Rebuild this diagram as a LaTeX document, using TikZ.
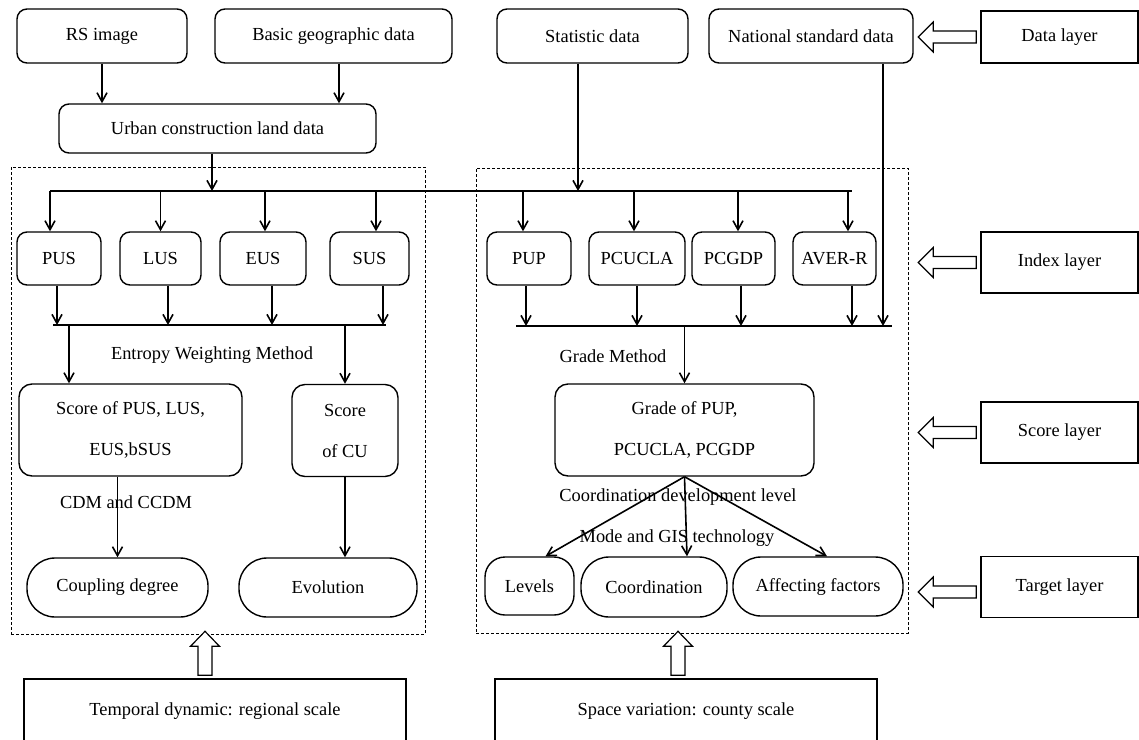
\documentclass[tikz,border=0pt]{standalone}
\usepackage{fontspec}
\setmainfont{Liberation Serif}
\usetikzlibrary{arrows.meta, positioning}

\begin{document}
\begin{tikzpicture}[x=0.5pt, y=-0.5pt,
    every node/.style={font=\fontsize{9.2}{11}\selectfont},
    databox/.style={draw, rounded corners=5pt, line width=0.7pt, minimum height=27pt, inner sep=1pt},
    idxbox/.style={draw, rounded corners=5pt, line width=0.7pt, minimum height=26.5pt, inner sep=1pt},
    scorebox/.style={draw, rounded corners=6.5pt, line width=0.7pt, minimum height=46pt, align=center, inner sep=1pt},
    goal/.style={draw, rounded corners=14pt, line width=0.7pt, minimum height=29.5pt, inner sep=1pt},
    layerbox/.style={draw, line width=0.7pt, minimum width=78.5pt, minimum height=30.5pt, inner sep=1pt},
    frame/.style={draw, line width=0.5pt, dash pattern=on 1.5pt off 1pt, inner sep=0pt},
    wire/.style={draw, line width=0.8pt},
    flow/.style={draw, line width=0.8pt, -{Straight Barb[length=4.5pt, width=5pt]}},
    hollow/.style={draw, line width=0.6pt, fill=white}]

    \useasboundingbox (0,0) rectangle (1139,739);
    \clip (0,0) rectangle (1139,739);

    % dashed frames
    \node[frame, minimum width=207pt, minimum height=233.5pt] (tframe) at (218,400.5) {};
    \node[frame, minimum width=216pt, minimum height=232.5pt] (sframe) at (692,400.5) {};

    % data
    \node[databox, minimum width=85pt] (rs) at (102,36) {RS image};
    \node[databox, minimum width=118.5pt] (basic) at (333.5,36) {Basic geographic data};
    \node[databox, minimum width=95.5pt] (stat) at (592.5,36) {Statistic data};
    \node[databox, minimum width=102pt] (nat) at (811,36) {National standard data};
    \node[databox, minimum width=158.5pt, minimum height=24.5pt] (urban) at (217.5,128.5) {Urban construction land data};

    % indexes
    \node[idxbox, minimum width=42pt] (pus) at (59,258.5) {PUS};
    \node[idxbox, minimum width=40.5pt] (lus) at (160.5,258.5) {LUS};
    \node[idxbox, minimum width=43pt] (eus) at (263,258.5) {EUS};
    \node[idxbox, minimum width=39.5pt] (sus) at (369.5,258.5) {SUS};
    \node[idxbox, minimum width=42pt] (pup) at (529,258.5) {PUP};
    \node[idxbox, minimum width=48pt] (pcucla) at (637,258.5) {PCUCLA};
    \node[idxbox, minimum width=41.5pt] (pcgdp) at (733.5,258.5) {PCGDP};
    \node[idxbox, minimum width=41.5pt] (aver) at (834.5,258.5) {AVER-R};

    % scores
    \node[scorebox, minimum width=111.5pt] (scorepus) at (130.5,430) {Score of PUS, LUS,\\[9.5pt]EUS,bSUS};
    \node[scorebox, minimum width=53pt] (scorecu) at (345,430.5) {Score\\[9.5pt]of CU};
    \node[scorebox, minimum width=129.5pt] (grade) at (684.5,430) {Grade of PUP,\\[9.5pt]PCUCLA, PCGDP};

    % targets
    \node[goal, minimum width=90.5pt] (coupling) at (117.5,587.5) {Coupling degree};
    \node[goal, minimum width=89pt] (evolution) at (328,587.5) {Evolution};
    \node[goal, rounded corners=10pt, minimum width=44.5pt, minimum height=29pt] (levels) at (529.5,586) {Levels};
    \node[goal, minimum width=73pt, minimum height=30pt] (coordination) at (654,587) {Coordination};
    \node[goal, minimum width=85pt] (affecting) at (818,586.5) {Affecting factors};

    % layers and scales
    \node[layerbox, minimum height=26pt] (datal) at (1059.5,37) {Data layer};
    \node[layerbox] (indexl) at (1059.5,262.5) {Index layer};
    \node[layerbox] (scorel) at (1059.5,432.5) {Score layer};
    \node[layerbox] (targetl) at (1059.5,587) {Target layer};
    \node[layerbox, minimum width=191pt, minimum height=32pt] (temporal) at (215,711) {Temporal dynamic: regional scale};
    \node[layerbox, minimum width=191pt, minimum height=32pt] (space) at (686,711) {Space variation: county scale};

    % method labels
    \node (ewm) at (212,355) {Entropy Weighting Method};
    \node (gm) at (613,356) {Grade Method};
    \node (cdm) at (126,502) {CDM and CCDM};
    \node (cdl) at (678,497) {Coordination development level};
    \node (gis) at (677,538) {Mode and GIS technology};

    % buses
    \coordinate (busL) at (50,191);
    \coordinate (busR) at (852,191);
    \coordinate (sumL) at (53,325);
    \coordinate (sumLend) at (386,325);
    \coordinate (sumR) at (516,326);
    \coordinate (sumRend) at (892,326);
    \draw[wire] (busL) -- (busR);
    \draw[wire] (sumL) -- (sumLend);
    \draw[wire] (sumR) -- (sumRend);

    \draw[flow] (rs.south) -- (rs.south |- urban.north);
    \draw[flow] ([xshift=2.75pt]basic.south) -- ([xshift=2.75pt]basic.south |- urban.north);
    \draw[flow] ([xshift=-2.75pt]urban.south) -- ([xshift=-2.75pt]urban.south |- busL);
    \draw[flow] ([xshift=-7.25pt]stat.south) -- ([xshift=-7.25pt]stat.south |- busL);
    \draw[flow] ([xshift=36pt]nat.south) -- ([xshift=36pt]nat.south |- sumR);

    \foreach \n/\s in {pus/-4.5pt, lus/0pt, eus/1pt, sus/3.25pt, pup/-3pt, pcucla/-1.5pt, pcgdp/2.25pt, aver/6.75pt}
        \draw[flow] ([xshift=\s]\n.north |- busL) -- ([xshift=\s]\n.north);
    \foreach \n/\s in {pus/-1pt, lus/3.75pt, eus/4.5pt, sus/6.75pt}
        \draw[flow] ([xshift=\s]\n.south) -- ([xshift=\s]\n.south |- sumL);
    \foreach \n/\s in {pup/-1.5pt, pcucla/0pt, pcgdp/3.75pt, aver/8.75pt}
        \draw[flow] ([xshift=\s]\n.south) -- ([xshift=\s]\n.south |- sumR);

    \draw[flow] ([xshift=-30.75pt]scorepus.north |- sumL) -- ([xshift=-30.75pt]scorepus.north);
    \draw[flow] (scorecu.north |- sumL) -- (scorecu.north);
    \draw[flow] (grade.north |- sumR) -- (grade.north);

    \draw[flow] (coupling.north |- scorepus.south) -- (coupling.north);
    \draw[flow] (scorecu.south) -- (scorecu.south |- evolution.north);
    \draw[flow] (grade.south) -- ([xshift=8pt]levels.north);
    \draw[flow] (grade.south) -- ([xshift=16.5pt]coordination.north);
    \draw[flow] (grade.south) -- ([xshift=4.5pt]affecting.north);

    % hollow arrows
    \foreach \n/\s in {datal/0pt, indexl/0pt, scorel/0pt, targetl/-2.5pt}
        \draw[hollow] ([xshift=-2pt, yshift=\s+3pt]\n.west) -- ++(-21.5pt,0) -- ++(0,4.5pt)
            -- ++(-7.5pt,-7.5pt) -- ++(7.5pt,-7.5pt) -- ++(0,4.5pt) -- ++(21.5pt,0) -- cycle;
    \foreach \n/\s in {temporal/-5pt, space/-4pt}
        \draw[hollow] ([xshift=\s-3.5pt, yshift=1.5pt]\n.north) -- ++(0,14.5pt) -- ++(-3.75pt,0)
            -- ++(7.25pt,7.5pt) -- ++(7.25pt,-7.5pt) -- ++(-3.75pt,0) -- ++(0,-14.5pt) -- cycle;
\end{tikzpicture}
\end{document}
